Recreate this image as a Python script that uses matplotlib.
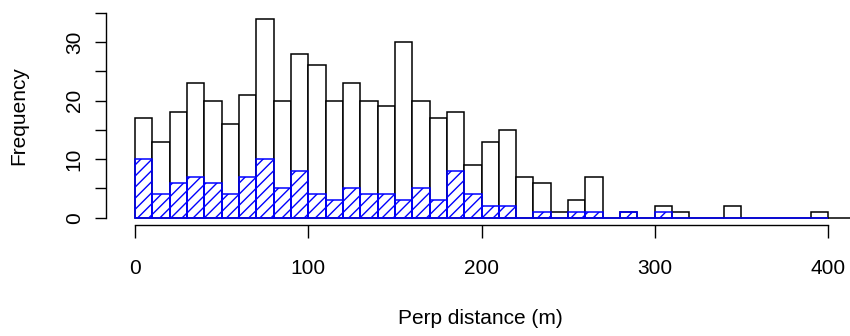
import matplotlib
matplotlib.use("Agg")
import matplotlib.pyplot as plt
import numpy as np

plt.rcParams['font.family'] = ['Liberation Sans', 'DejaVu Sans']
plt.rcParams['hatch.linewidth'] = 1.0

# Histogram bin edges (width 10 m)
all_edges = list(range(0, 430, 10))          # 0..420
all_counts = [17, 13, 18, 23, 20, 16, 21, 34, 20, 28,
              26, 20, 23, 20, 19, 30, 20, 17, 18, 9,
              13, 15, 7, 6, 1, 3, 7, 0, 1, 0,
              2, 1, 0, 0, 2, 0, 0, 0, 0, 1,
              0, 0]
sub_edges = list(range(0, 410, 10))          # 0..400
sub_counts = [10, 4, 6, 7, 6, 4, 7, 10, 5, 8,
              4, 3, 5, 4, 4, 3, 5, 3, 8, 4,
              2, 2, 0, 1, 0, 1, 1, 0, 1, 0,
              1, 0, 0, 0, 0, 0, 0, 0, 0, 0]

x_ticks = [0, 100, 200, 300, 400]
y_major = [0, 10, 20, 30]
y_minor = [5, 15, 25, 35]
x_label = "Perp distance (m)"
y_label = "Frequency"

W, H = 850, 336
fig = plt.figure(figsize=(W / 100, H / 100), dpi=100)
ax_left, ax_right, ax_bottom, ax_top = 106, 850, 225, 5
ax = fig.add_axes([ax_left / W, 1 - ax_bottom / H,
                   (ax_right - ax_left) / W, (ax_bottom - ax_top) / H])

lw = 1.1
# all detections (black outline)
ax.stairs(all_counts, all_edges, fill=False, baseline=0, color='none')
for i, c in enumerate(all_counts):
    ax.bar(all_edges[i], c, width=10, align='edge', facecolor='white',
           edgecolor='black', linewidth=lw, zorder=2)
# subset (blue hatched)
for i, c in enumerate(sub_counts):
    ax.bar(sub_edges[i], c, width=10, align='edge', facecolor='none',
           edgecolor='#0000FF', hatch='///', linewidth=lw, zorder=3)

ax.set_xlim((106 - 135) / 1.7325, (850 - 135) / 1.7325)
ax.set_ylim(-7.3 / 5.857, 212.7 / 5.857)

for s in ['top', 'right']:
    ax.spines[s].set_visible(False)
ax.spines['left'].set_bounds(0, 35)
ax.spines['bottom'].set_bounds(0, 400)
ax.spines['left'].set_linewidth(1.0)
ax.spines['bottom'].set_linewidth(1.0)

ax.set_xticks(x_ticks)
ax.set_xticklabels([str(v) for v in x_ticks], fontsize=15)
ax.tick_params(axis='x', direction='out', length=9.5, width=1.0, pad=15)

ax.set_yticks(y_major)
ax.set_yticks(y_minor, minor=True)
ax.set_yticklabels([str(v) for v in y_major], fontsize=15, rotation=90, va='center')
ax.tick_params(axis='y', which='both', direction='out', length=8, width=1.0, pad=8)

fig.text(480.5 / W, 1 - 318 / H, x_label, ha='center', va='center', fontsize=15)
fig.text(19 / W, 1 - 116 / H, y_label, ha='center', va='center', fontsize=15, rotation=90)

fig.savefig("out.png", dpi=100)
